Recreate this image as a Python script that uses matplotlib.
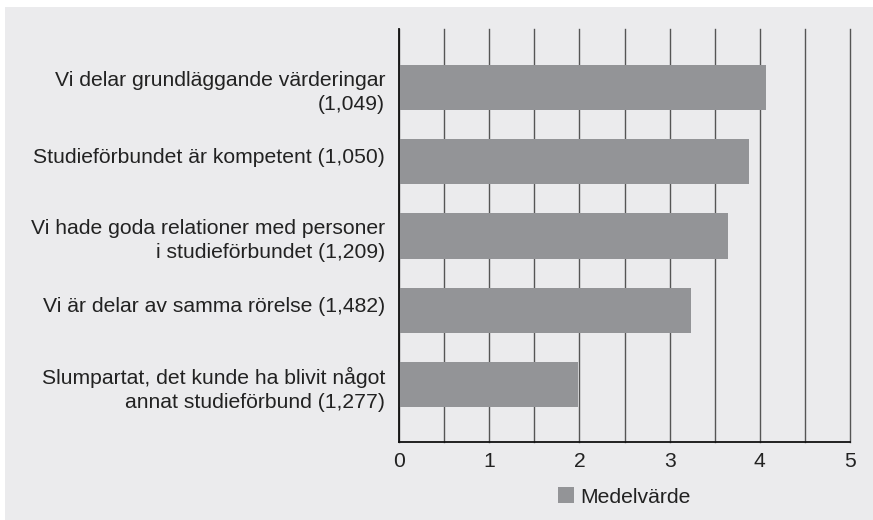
import matplotlib
matplotlib.use("Agg")
import matplotlib.pyplot as plt
from matplotlib.patches import Rectangle
from matplotlib.transforms import ScaledTranslation

plt.rcParams['font.family'] = ['Liberation Sans', 'DejaVu Sans']

categories = [
    "Vi delar grundläggande värderingar\n(1,049)",
    "Studieförbundet är kompetent (1,050)",
    "Vi hade goda relationer med personer\ni studieförbundet (1,209)",
    "Vi är delar av samma rörelse (1,482)",
    "Slumpartat, det kunde ha blivit något\nannat studieförbund (1,277)",
]
values = [4.07, 3.88, 3.65, 3.24, 1.98]
series_name = "Medelvärde"
xticks = [0, 0.5, 1, 1.5, 2, 2.5, 3, 3.5, 4, 4.5, 5]
xticklabels = ["0", "", "1", "", "2", "", "3", "", "4", "", "5"]

bg = '#ebebed'
bar_color = '#939497'
fs = 15.2

fig = plt.figure(figsize=(8.73, 5.2), dpi=100)
fig.patch.set_facecolor('white')
fig.patches.append(Rectangle((5/873, -0.1), 1.2, 0.1 + (520 - 7)/520,
                             transform=fig.transFigure, facecolor=bg,
                             edgecolor='none', zorder=-5))

ax = fig.add_axes([399/873, (520-442)/520, (850-399)/873, (442-29)/520])
ax.set_facecolor(bg)

ypos = list(range(len(categories)))
ax.barh(ypos, values, height=0.61, color=bar_color, zorder=3, label=series_name)

ax.set_xlim(0, 5)
ax.set_ylim(4.774, -0.788)
ax.set_xticks(xticks)
ax.set_xticklabels(xticklabels, fontsize=fs, color='#222222')
ax.set_yticks(ypos)
ax.set_yticklabels(categories, fontsize=fs, color='#222222', ha='right',
                   multialignment='right', linespacing=1.35)
ax.tick_params(axis='both', which='both', length=0)
ax.tick_params(axis='y', pad=10)
ax.tick_params(axis='x', pad=7)

# single-line labels sit slightly above bar centre, as in the reference
for lbl in ax.get_yticklabels():
    if "\n" not in lbl.get_text():
        lbl.set_transform(lbl.get_transform() +
                          ScaledTranslation(0, 6/100, fig.dpi_scale_trans))

ax.grid(axis='x', color='#555555', linewidth=1.0, zorder=1)
ax.set_axisbelow(True)
for tk in ax.xaxis.get_major_ticks():
    tk.gridline.set_clip_on(False)

for s in ['top', 'right']:
    ax.spines[s].set_visible(False)
ax.spines['left'].set_color('#111111')
ax.spines['bottom'].set_color('#111111')
ax.spines['left'].set_linewidth(1.3)
ax.spines['bottom'].set_linewidth(1.3)
ax.spines['left'].set_zorder(4)

leg = fig.legend(loc='center', bbox_to_anchor=(624/873, 1 - 497/520),
                 frameon=False, fontsize=fs, handlelength=0.75,
                 handleheight=0.75, handletextpad=0.3)
for t in leg.get_texts():
    t.set_color('#222222')

fig.savefig('out.png', dpi=100, facecolor=fig.get_facecolor())
